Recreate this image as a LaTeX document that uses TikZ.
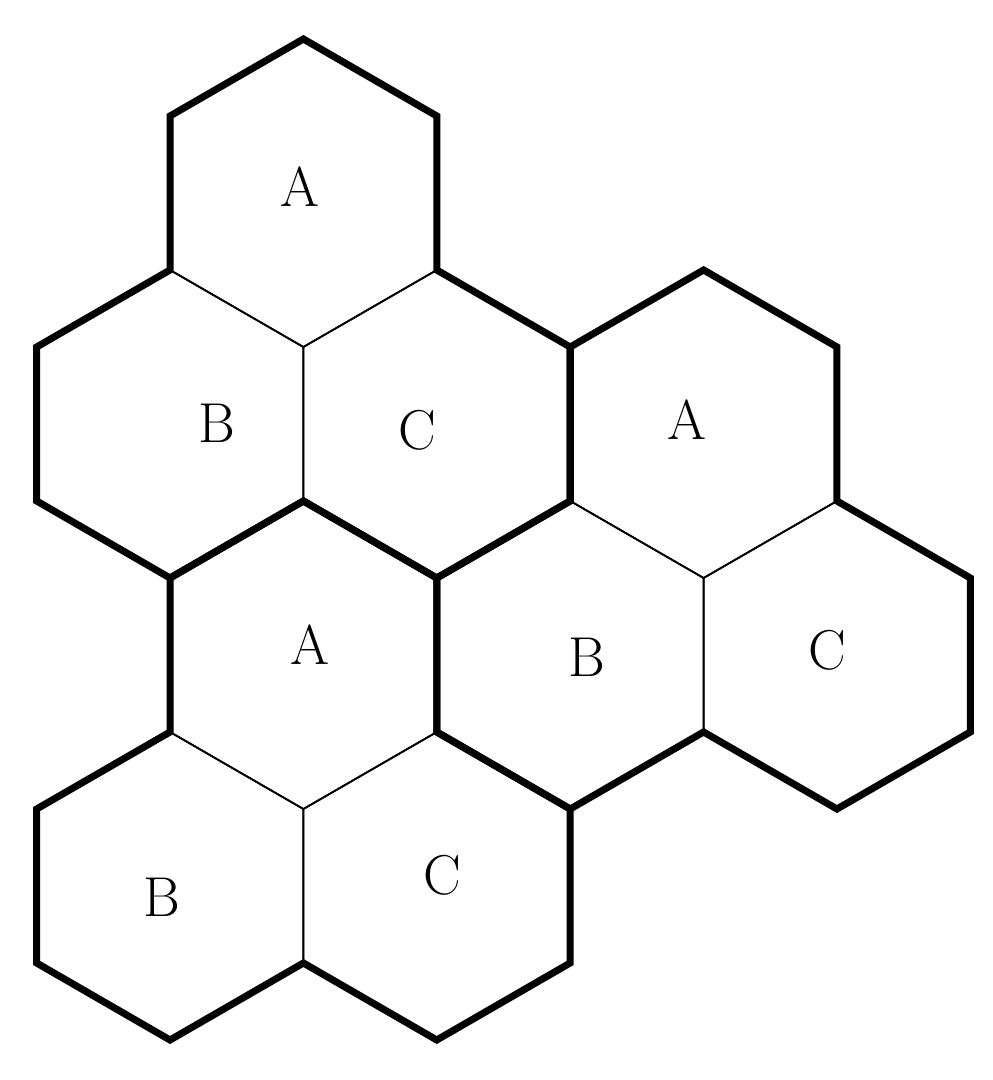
\documentclass[tikz,border=0pt]{standalone}
\begin{document}
\begin{tikzpicture}[
        cell/.style={draw, line width=0.5pt},
        cluster/.style={draw, line width=2pt, line join=miter},
        letter/.style={font=\fontsize{16}{19}\selectfont}
    ]
        \useasboundingbox (-1.70, -8.87) rectangle (8.22, 1.93);

        % hexagon centres
        \coordinate (a1) at (1 * 1.334, -0 * 2.31);
        \coordinate (b1) at (0 * 1.334, -1 * 2.31);
        \coordinate (c1) at (2 * 1.334, -1 * 2.31);
        \coordinate (a2) at (4 * 1.334, -1 * 2.31);
        \coordinate (b2) at (3 * 1.334, -2 * 2.31);
        \coordinate (c2) at (5 * 1.334, -2 * 2.31);
        \coordinate (a3) at (1 * 1.334, -2 * 2.31);
        \coordinate (b3) at (0 * 1.334, -3 * 2.31);
        \coordinate (c3) at (2 * 1.334, -3 * 2.31);

        % thin cells
        \foreach \h in {a1, b1, c1, a2, b2, c2, a3, b3, c3}
            \draw[cell] (\h) +(30:1.54) -- +(90:1.54) -- +(150:1.54) -- +(210:1.54)
                -- +(270:1.54) -- +(330:1.54) -- cycle;

        % thick outline of each cluster
        \foreach \h in {a1, a2, a3}
            \draw[cluster] (\h) ++(90:1.54) -- ++(-30:1.54) -- ++(-90:1.54) -- ++(-30:1.54)
                -- ++(-90:1.54) -- ++(-150:1.54) -- ++(150:1.54) -- ++(-150:1.54)
                -- ++(150:1.54) -- ++(90:1.54) -- ++(30:1.54) -- ++(90:1.54) -- cycle;

        % letters
        \node[letter] at (1.30, 0.06)   (la1) {A};
        \node[letter] at (0.47, -2.30)  (lb1) {B};
        \node[letter] at (2.47, -2.37)  (lc1) {C};
        \node[letter] at (5.17, -2.27)  (la2) {A};
        \node[letter] at (4.17, -4.64)  (lb2) {B};
        \node[letter] at (6.57, -4.57)  (lc2) {C};
        \node[letter] at (1.40, -4.52)  (la3) {A};
        \node[letter] at (-0.08, -7.04) (lb3) {B};
        \node[letter] at (2.72, -6.82)  (lc3) {C};

    \end{tikzpicture}
\end{document}
